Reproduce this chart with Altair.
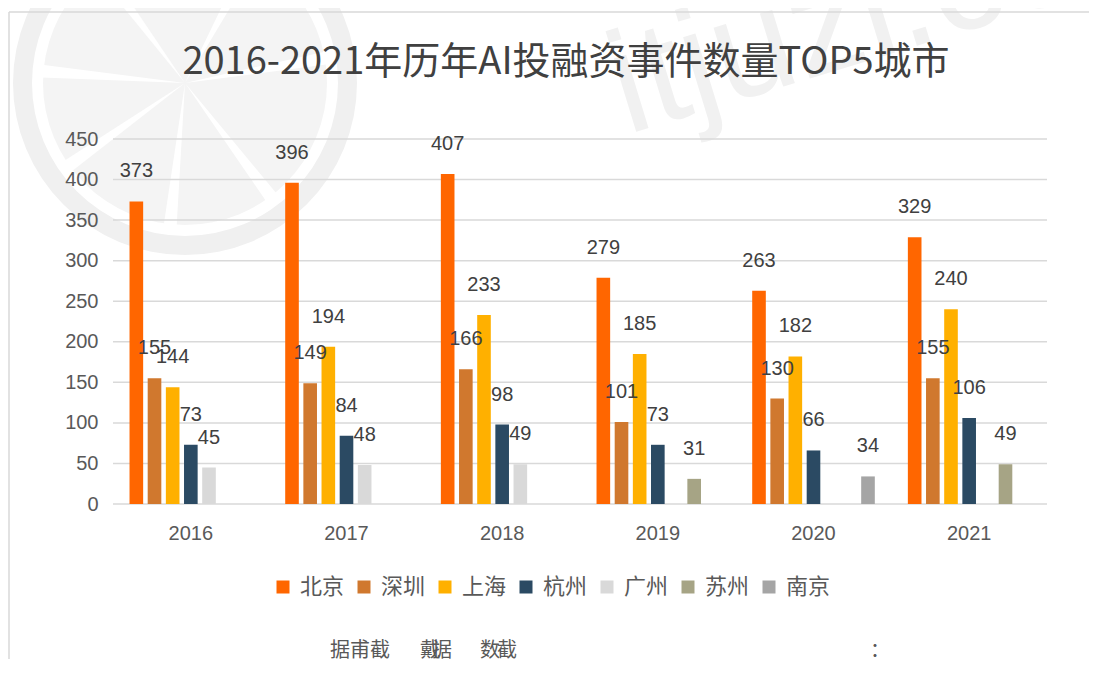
import altair as alt
import pandas as pd
import math

years = ["2016", "2017", "2018", "2019", "2020", "2021"]
cities = ["北京", "深圳", "上海", "杭州", "广州", "苏州", "南京"]
colors = ["#FF6600", "#D0782E", "#FFB000", "#2B4A63", "#D9D9D9", "#A6A485", "#A5A5A5"]
y_ticks = [0, 50, 100, 150, 200, 250, 300, 350, 400, 450]

beijing = [373, 396, 407, 279, 263, 329]
shenzhen = [155, 149, 166, 101, 130, 155]
shanghai = [144, 194, 233, 185, 182, 240]
hangzhou = [73, 84, 98, 73, 66, 106]
guangzhou = [45, 48, 49, None, None, None]
suzhou = [None, None, None, 31, None, 49]
nanjing = [None, None, None, None, 34, None]

series = [beijing, shenzhen, shanghai, hangzhou, guangzhou, suzhou, nanjing]
rows = []
for city, vals in zip(cities, series):
    for y, v in zip(years, vals):
        if v is not None:
            rows.append({"year": y, "city": city, "value": v})
df = pd.DataFrame(rows)

title_text = "2016-2021年历年AI投融资事件数量TOP5城市"

NUM_FONT = "Liberation Sans, Noto Sans CJK SC"
CJK_FONT = "Noto Sans CJK SC"

y_axis = alt.Axis(values=y_ticks, labelFontSize=20, labelColor="#595959",
                  labelFont=NUM_FONT, labelPadding=15, ticks=False, domain=False,
                  grid=False, zindex=1)
y_scale = alt.Scale(domain=[0, 450], nice=False)

x_enc = alt.X("year:N", sort=years, title=None,
              scale=alt.Scale(paddingInner=0, paddingOuter=0),
              axis=alt.Axis(labelAngle=0, labelFontSize=20, labelColor="#595959",
                            labelFont=NUM_FONT, labelPadding=19, ticks=False,
                            domain=False, grid=False, zindex=1))
xo_enc = alt.XOffset("city:N", sort=cities,
                     scale=alt.Scale(domain=cities, paddingInner=0.25, paddingOuter=0.91))

# watermark logo (very light gray)
cx, cy = 72, -56
one = pd.DataFrame({"k": [0]})
ring = alt.Chart(one).mark_arc(radius=172, radius2=153, theta=0, theta2=2 * math.pi,
                               color="#F0F0F0").encode(x=alt.value(cx), y=alt.value(cy))
disc = alt.Chart(one).mark_arc(radius=142, theta=0, theta2=2 * math.pi,
                               color="#F4F4F4").encode(x=alt.value(cx), y=alt.value(cy))
gap_angles = [0.45, 1.35, 2.45, 3.2, 4.05, 4.75, 5.6]
gaps = alt.Chart(pd.DataFrame({"a": gap_angles})).mark_arc(radius=150, color="white").encode(
    x=alt.value(cx), y=alt.value(cy),
    theta=alt.Theta("a:Q", scale=None), theta2=alt.Theta2("a2:Q")
).transform_calculate(a2="datum.a + 0.09")

site = alt.Chart(one).mark_text(text="itjuzi.com", fontSize=145, angle=343,
                                font="Liberation Sans", color="#F1F1F1",
                                align="center", baseline="middle").encode(
    x=alt.value(790), y=alt.value(-135))

frame_top = alt.Chart(one).mark_rule(color="#D9D9D9", strokeWidth=1.5).encode(
    x=alt.value(-104), x2=alt.value(976), y=alt.value(-127))
frame_left = alt.Chart(one).mark_rule(color="#D9D9D9", strokeWidth=1.5).encode(
    x=alt.value(-104), y=alt.value(-127), y2=alt.value(520))

grid = alt.Chart(pd.DataFrame({"v": y_ticks})).mark_rule(color="#D9D9D9", strokeWidth=1.5).encode(
    y=alt.Y("v:Q", title=None, scale=y_scale, axis=y_axis),
    x=alt.value(0), x2=alt.value(934))

bars = alt.Chart(df).mark_bar().encode(
    x=x_enc, xOffset=xo_enc,
    y=alt.Y("value:Q", title=None, scale=y_scale, axis=y_axis),
    color=alt.Color("city:N", sort=cities,
                    scale=alt.Scale(domain=cities, range=colors),
                    legend=alt.Legend(title=None, orient="none", direction="horizontal",
                                      legendX=159, legendY=437, symbolType="square",
                                      symbolSize=169, symbolStrokeWidth=0,
                                      labelFontSize=22, labelFont=CJK_FONT,
                                      labelColor="#595959", labelOffset=6,
                                      columnPadding=8))
)

labels = alt.Chart(df).mark_text(dy=-30, baseline="middle", fontSize=20,
                                 font=NUM_FONT, color="#404040").encode(
    x=alt.X("year:N", sort=years), xOffset=alt.XOffset("city:N", sort=cities),
    y=alt.Y("value:Q", title=None, scale=y_scale, axis=y_axis), text=alt.Text("value:Q"))

title = alt.Chart(pd.DataFrame({"t": [title_text]})).mark_text(
    fontSize=38, font=CJK_FONT, fontWeight="normal", color="#404040",
    align="center", baseline="middle").encode(
    text="t:N", x=alt.value(453), y=alt.value(-76))

foot_texts = ["据甫截", "戴", "据", "数", "截", "："]
foot_x = [217, 307, 319, 367, 384, 757]
foot = alt.Chart(pd.DataFrame({"t": foot_texts, "px": foot_x})).mark_text(
    fontSize=20, font=CJK_FONT, color="#595959", align="left", baseline="middle").encode(
    text="t:N", x=alt.X("px:Q", scale=None), y=alt.value(512))

chart = alt.layer(ring, disc, gaps, site, frame_top, frame_left, grid, bars, labels, title, foot).properties(
    width=934, height=365,
    padding={"left": 105, "top": 131, "right": 44, "bottom": 158},
    autosize=alt.AutoSizeParams(type="none"),
    background="white"
).configure_view(stroke=None)

chart.save("out.html", embed_options={"renderer": "svg", "actions": False})
